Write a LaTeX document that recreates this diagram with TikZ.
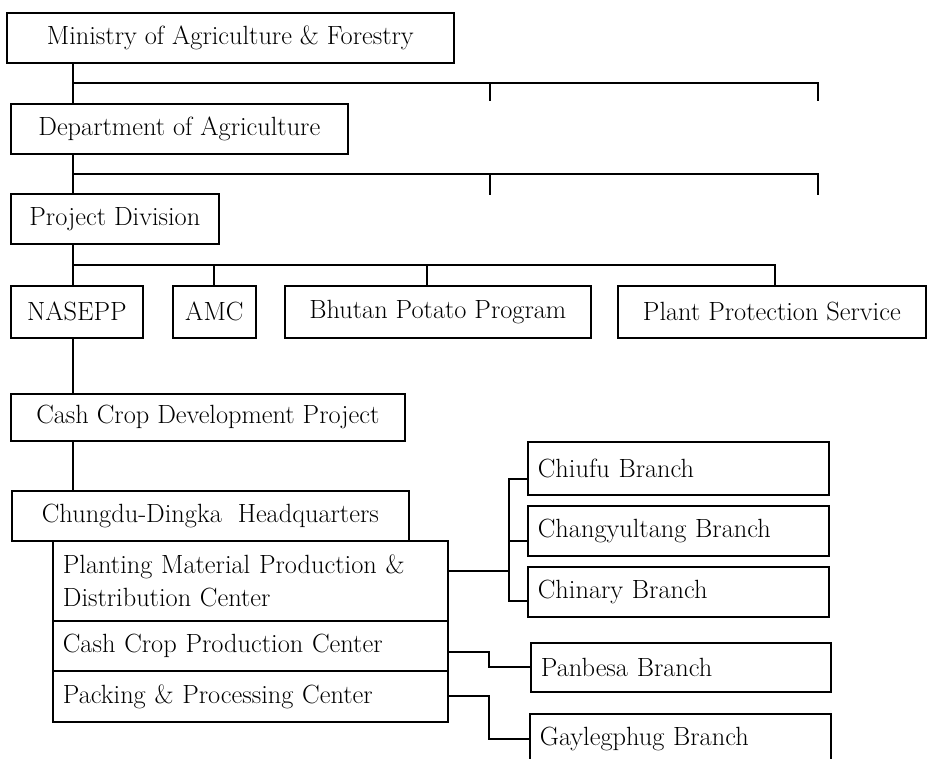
\documentclass[tikz,border=0pt]{standalone}
\usetikzlibrary{calc}
\tikzset{
    orgbox/.style={draw, line width=1pt, anchor=north west, inner xsep=0.1cm, inner ysep=0pt,
        minimum height=1cm, font=\fontsize{15}{19}\selectfont},
    leftbox/.style={orgbox, align=left, inner xsep=0.2cm},
    orgline/.style={line width=1pt}
}
\begin{document}
\begin{tikzpicture}[x=0.02cm, y=-0.02cm]
    % Page frame
    \useasboundingbox (0,0) rectangle (927,759);
    % Top levels
    \node[orgbox, minimum width=8.94cm] (ministry) at (6,12)  {Ministry of Agriculture \& Forestry};
    \node[orgbox, minimum width=6.74cm] (dept)     at (10,103) {Department of Agriculture};
    \node[orgbox, minimum width=4.16cm] (proj)     at (10,193) {Project Division};
    % Programs
    \node[orgbox, minimum width=2.64cm, minimum height=1.04cm] (nasepp) at (10,285)  {NASEPP};
    \node[orgbox, minimum width=1.66cm, minimum height=1.04cm] (amc)    at (172,285) {AMC};
    \node[orgbox, minimum width=6.12cm, minimum height=1.04cm] (potato) at (284,285) {Bhutan Potato Program};
    \node[orgbox, minimum width=6.16cm, minimum height=1.04cm] (pps)    at (617,285) {Plant Protection Service};
    % Project and headquarters
    \node[orgbox, minimum width=7.88cm, minimum height=0.94cm] (ccdp) at (10,393) {Cash Crop Development Project};
    \node[orgbox, minimum width=7.94cm] (hq) at (11,490) {Chungdu-Dingka~ Headquarters};
    % Centers
    \node[leftbox, text width=7.5cm, minimum height=1.6cm] (pmpdc) at (52,540) {Planting Material Production \&\\Distribution Center};
    \node[leftbox, text width=7.5cm]                       (ccpc)  at (52,620) {Cash Crop Production Center};
    \node[leftbox, text width=7.5cm, minimum height=1.02cm] (ppc)  at (52,670) {Packing \& Processing Center};
    % Branches
    \node[leftbox, text width=5.62cm, minimum height=1.06cm] (chiufu)       at (527,441) {Chiufu Branch};
    \node[leftbox, text width=5.62cm]                        (changyultang) at (527,505) {Changyultang Branch};
    \node[leftbox, text width=5.62cm]                        (chinary)      at (527,566) {Chinary Branch};
    \node[leftbox, text width=5.6cm, minimum height=0.98cm]  (panbesa)      at (530,642) {Panbesa Branch};
    \node[leftbox, text width=5.62cm]                        (gaylegphug)   at (529,713) {Gaylegphug Branch};
    % Definitions
    \coordinate (spine)  at (73,0);
    \coordinate (busA)   at (73,83);
    \coordinate (busB)   at (73,174);
    \coordinate (busC)   at (73,265);
    \coordinate (stubA1) at (490,101);
    \coordinate (stubA2) at (818,101);
    \coordinate (stubB1) at (490,195);
    \coordinate (stubB2) at (818,195);
    \coordinate (dropP)  at (427,0);
    \coordinate (dropS)  at (775,0);
    \coordinate (forkA)  at (509,0);
    \coordinate (forkB)  at (489,0);
    \coordinate (pmOut)  at ([yshift=0.2cm]pmpdc.east);
    \coordinate (ccOut)  at ([yshift=-0.12cm]ccpc.east);
    \coordinate (chiIn)  at ([yshift=-0.22cm]chiufu.west);
    \coordinate (chaIn)  at ([yshift=-0.2cm]changyultang.west);
    \coordinate (chnIn)  at ([yshift=-0.18cm]chinary.west);
    % Spine
    \draw[orgline] (ministry.south -| spine) -- (dept.north -| spine);
    \draw[orgline] (dept.south -| spine)     -- (proj.north -| spine);
    \draw[orgline] (proj.south -| spine)     -- (nasepp.north -| spine);
    \draw[orgline] (nasepp.south -| spine)   -- (ccdp.north -| spine);
    \draw[orgline] (ccdp.south -| spine)     -- (hq.north -| spine);
    % Buses
    \draw[orgline] (busA) -| (stubA2);
    \draw[orgline] (busA -| stubA1) -- (stubA1);
    \draw[orgline] (busB) -| (stubB2);
    \draw[orgline] (busB -| stubB1) -- (stubB1);
    \draw[orgline] (busC) -| (pps.north -| dropS);
    \draw[orgline] (busC -| amc.north) -- (amc.north);
    \draw[orgline] (busC -| dropP) -- (potato.north -| dropP);
    % Branch links
    \draw[orgline] (pmOut) -- (pmOut -| forkA);
    \draw[orgline] (chiIn) -| (chnIn -| forkA) -- (chnIn);
    \draw[orgline] (chaIn -| forkA) -- (chaIn);
    \draw[orgline] (ccOut) -- (ccOut -| forkB) |- (panbesa.west);
    \draw[orgline] (ppc.east) -- (ppc.east -| forkB) |- (gaylegphug.west);
\end{tikzpicture}
\end{document}
